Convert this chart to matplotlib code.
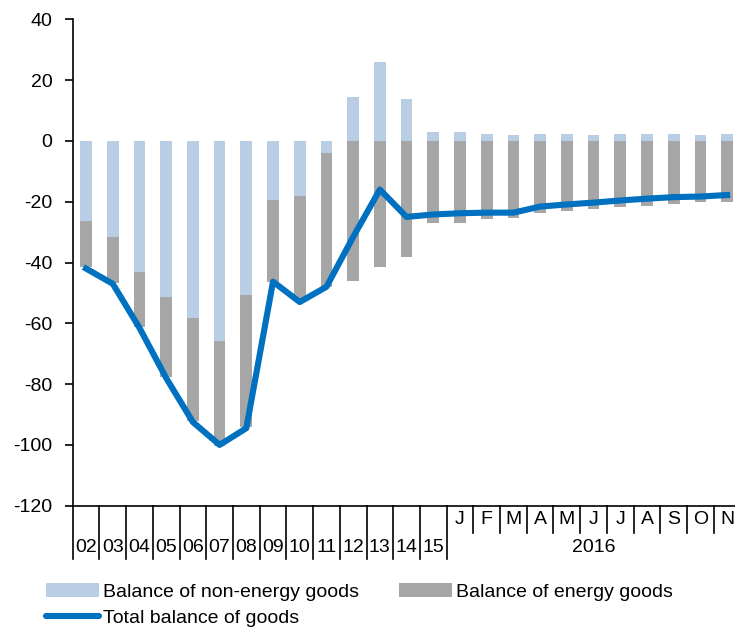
import numpy as np
import matplotlib
matplotlib.use("Agg")
import matplotlib.pyplot as plt
from matplotlib.patches import Patch
from matplotlib.lines import Line2D
import matplotlib.transforms as mtransforms

plt.rcParams["font.family"] = ["Liberation Sans", "DejaVu Sans"]
plt.rcParams["axes.unicode_minus"] = False

years = ["02", "03", "04", "05", "06", "07", "08", "09", "10", "11", "12", "13", "14", "15"]
months = ["J", "F", "M", "A", "M", "J", "J", "A", "S", "O", "N"]
year_2016 = "2016"

non_energy = [-26.3, -31.7, -43.2, -51.2, -58.2, -65.8, -50.8, -19.4, -18.1, -4.0,
              14.5, 25.9, 13.8, 2.8,
              3.0, 2.4, 1.8, 2.4, 2.4, 1.8, 2.4, 2.4, 2.4, 1.8, 2.4]
energy = [-15.3, -15.2, -18.0, -26.6, -34.0, -34.5, -43.4, -26.9, -34.4, -44.2,
          -46.1, -41.6, -38.3, -27.0,
          -27.1, -25.7, -25.2, -23.8, -23.2, -22.5, -21.9, -21.3, -20.7, -20.0, -20.0]
total = [-42.0, -47.0, -61.5, -78.0, -92.5, -100.0, -94.5, -46.3, -53.0, -48.0,
         -31.6, -16.0, -25.0, -24.2,
         -23.8, -23.6, -23.6, -21.6, -20.9, -20.3, -19.6, -19.0, -18.5, -18.3, -17.8]

ne = np.array(non_energy)
en = np.array(energy)
x = np.arange(len(ne))

fig = plt.figure(figsize=(7.35, 6.3), dpi=100)
W, H = 735, 630
left, right = 72.7, 72.7 + 25 * 26.71
top, bottom = 19.3, 505.7
ax = fig.add_axes([left / W, 1 - bottom / H, (right - left) / W, (bottom - top) / H])

c_ne = "#B9CDE5"
c_en = "#A6A6A6"
c_tot = "#0070C0"

ax.bar(x, ne, width=0.44, color=c_ne, zorder=2)
ax.bar(x, en, width=0.44, bottom=np.where(ne < 0, ne, 0), color=c_en, zorder=2)
ax.plot(x, total, color=c_tot, lw=4.4, zorder=3)

ax.set_xlim(-0.5, len(ne) - 0.5)
ax.set_ylim(-120, 40)
ax.set_yticks(np.arange(-120, 41, 20))
ax.tick_params(axis="y", direction="out", length=5.5, width=1.2, pad=9, labelsize=14)
ax.set_xticks([])
for s in ["top", "right"]:
    ax.spines[s].set_visible(False)
ax.spines["left"].set_linewidth(1.2)
ax.spines["bottom"].set_linewidth(1.2)

# category separators and labels below the axis
trans = mtransforms.blended_transform_factory(ax.transData, fig.transFigure)
y_axis = 1 - bottom / H
y_long = 1 - 559 / H
y_short = 1 - 533 / H
ny = len(years)
for k in range(len(ne)):
    xs = k - 0.5
    yend = y_long if k <= ny else y_short
    ax.add_line(Line2D([xs, xs], [y_axis, yend], transform=trans, color="black",
                       lw=1.2, clip_on=False))
for i, lab in enumerate(years):
    fig.text(i, 1 - 547 / H, lab, transform=trans, fontsize=14,
             ha="center", va="center")
for j, lab in enumerate(months):
    fig.text(ny + j, 1 - 520 / H, lab, transform=trans, fontsize=14,
             ha="center", va="center")
fig.text(ny + (len(months) - 1) / 2, 1 - 547 / H, year_2016, transform=trans,
         fontsize=14, ha="center", va="center")

# legend
fs = 14
h1 = Patch(facecolor=c_ne, edgecolor="none")
h2 = Line2D([], [], color=c_tot, lw=4.4, solid_capstyle="round")
h3 = Patch(facecolor=c_en, edgecolor="none")
fig.legend([h1, h2], ["Balance of non-energy goods", "Total balance of goods"],
           loc="upper left", bbox_to_anchor=(46 / W, 1 - 583 / H), frameon=False,
           fontsize=fs, handlelength=2.75, handletextpad=0.2, borderpad=0,
           borderaxespad=0, labelspacing=0.45)
fig.legend([h3], ["Balance of energy goods"],
           loc="upper left", bbox_to_anchor=(399 / W, 1 - 583 / H), frameon=False,
           fontsize=fs, handlelength=2.75, handletextpad=0.2, borderpad=0,
           borderaxespad=0)

fig.savefig("out.png", dpi=100)
